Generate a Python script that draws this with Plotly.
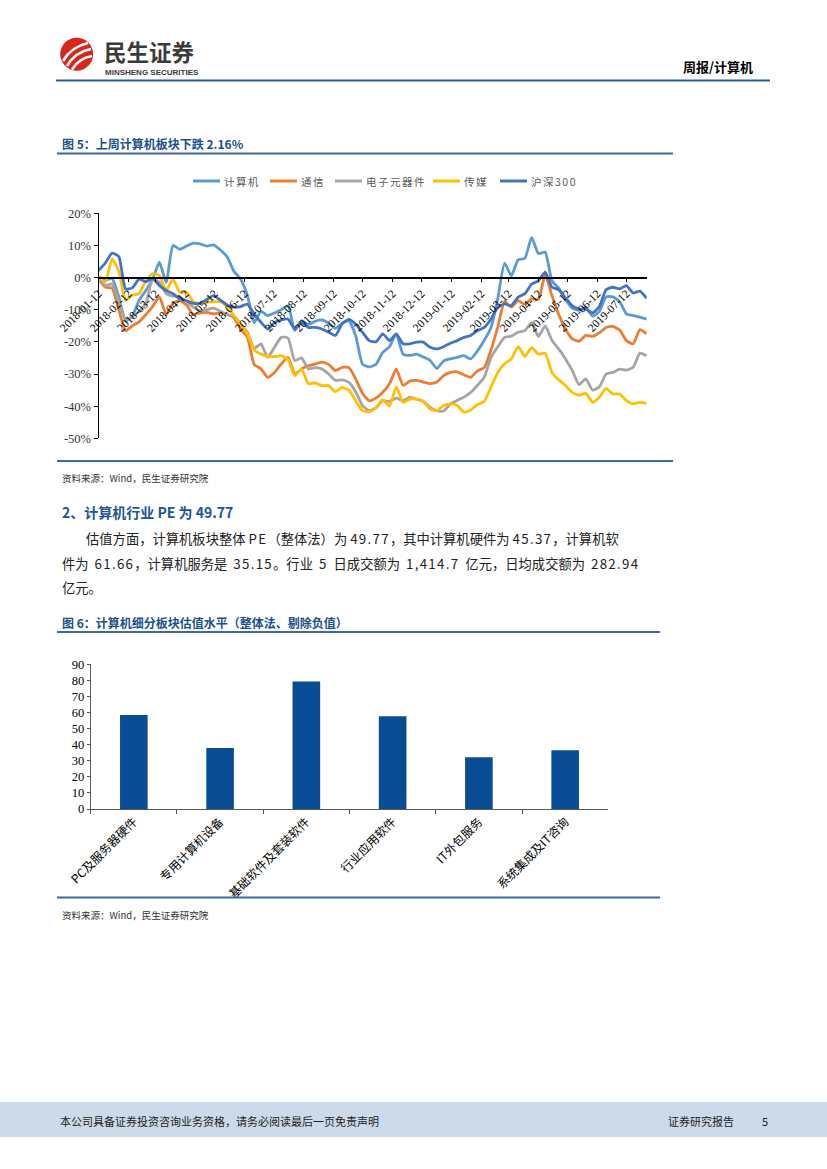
import plotly.graph_objects as go

W, H = 827, 1169
def X(px): return px / W
def Y(py): return 1 - py / H

# ---------------- data ----------------
DATES = [
    "2018-01-12","2018-01-19","2018-01-26","2018-02-02","2018-02-09","2018-02-16","2018-02-23",
    "2018-03-02","2018-03-09","2018-03-16","2018-03-23","2018-03-30","2018-04-06","2018-04-13",
    "2018-04-20","2018-04-27","2018-05-04","2018-05-11","2018-05-18","2018-05-25","2018-06-01",
    "2018-06-08","2018-06-15","2018-06-22","2018-06-29","2018-07-06","2018-07-13","2018-07-20",
    "2018-07-27","2018-08-03","2018-08-10","2018-08-17","2018-08-24","2018-08-31","2018-09-07",
    "2018-09-14","2018-09-21","2018-09-28","2018-10-05","2018-10-12","2018-10-19","2018-10-26",
    "2018-11-02","2018-11-09","2018-11-16","2018-11-23","2018-11-30","2018-12-07","2018-12-14",
    "2018-12-21","2018-12-28","2019-01-04","2019-01-11","2019-01-18","2019-01-25","2019-02-01",
    "2019-02-08","2019-02-15","2019-02-22","2019-03-01","2019-03-08","2019-03-15","2019-03-22",
    "2019-03-29","2019-04-05","2019-04-12","2019-04-19","2019-04-26","2019-05-03","2019-05-10",
    "2019-05-17","2019-05-24","2019-05-31","2019-06-07","2019-06-14","2019-06-21","2019-06-28",
    "2019-07-05","2019-07-12","2019-07-19","2019-07-26","2019-08-02",
]

COMPUTER = [0, -0.8, -0.3, -6, -13.5, -12, -7, -4, -0.5, 4.8, -1.5, 10, 8.8, 9.8, 10.7, 10.5,
            9.8, 10.2, 8.6, 6.5, 2, -0.5, -5.5, -14, -10.5, -11.8, -11, -10, -8.7, -16.5, -13.4,
            -14.6, -13.6, -13.2, -14.2, -15.8, -14.2, -13.5, -18, -26.9, -27.8, -27, -23.3, -21.5,
            -17.5, -23.8, -24.2, -23.8, -24.7, -25.8, -28.3, -25.9, -25.3, -24.8, -24.3, -25.3,
            -22.8, -19.5, -15.5, -6.5, 4.5, 0.6, 5.5, 6, 12.5, 7.5, 7.9, -1, -3.3, -6.8, -9.5,
            -10.2, -9.3, -12, -10.5, -6, -6, -7.5, -11.3, -11.8, -12.3, -12.9]

TELECOM = [-0.4, -3, -3.3, -10, -16.5, -15, -13.8, -11.5, -9, -6, -11.5, -8, -7.2, -8.5, -11.5,
           -11, -10.8, -11.3, -11, -11.5, -12.5, -16, -18.5, -27, -28.4, -31, -29.5, -26.9, -24.8,
           -30, -28.4, -27.4, -26.9, -26.3, -27, -28.9, -27.9, -28, -31.5, -36, -38.3, -37.5,
           -35.7, -33, -28.5, -33.5, -32.2, -32, -32.5, -33, -32.5, -30.5, -29.5, -29.3, -30.3,
           -31, -29, -28, -22.5, -15.3, -7.5, -9.2, -7.2, -8.3, -6.6, -6.8, 1, -5.6, -11.5, -16,
           -19.1, -19.8, -18, -18.3, -17.2, -15.5, -15.2, -16.3, -19.6, -20.6, -16.2, -17.5]

ELECTRONICS = [-0.4, -2.5, -2, -7.5, -13, -12.2, -10.5, -8, -0.5, -1.5, -5, -5.8, -6, -7.5, -9.2,
               -10.3, -10, -9.5, -10.5, -11.5, -12, -14.4, -17, -22, -20.6, -24.8, -21.7, -18.6,
               -18.8, -25.8, -25, -28.4, -28, -28.4, -30, -32, -31.8, -32.6, -35.5, -39.8, -41.4,
               -40.5, -38.3, -38.5, -37.5, -38.3, -37.2, -37.8, -38.5, -40.4, -41.4, -41.5, -39.3,
               -38.2, -37.2, -35.7, -33.5, -31, -24.8, -21.5, -18.6, -18.2, -17, -16.5, -14, -18.3,
               -15, -19.6, -22.2, -25.3, -28.9, -33.3, -31.5, -35, -34, -30, -29.5, -28.5, -28.8,
               -27.9, -23.5, -24.3]

MEDIA = [0.6, -1.5, 5.8, 2, -7, -5.5, -5, -1, 1.2, 0.6, -4, -0.5, -4.5, -4.5, -7.5, -8, -7.7,
         -7.5, -7.5, -9, -11.8, -14.4, -17.5, -22.5, -23.8, -24.5, -24.6, -24.3, -25.5, -30.5,
         -28.5, -33, -32.8, -33.6, -33.6, -35.5, -34.2, -35, -38.3, -41.4, -41.8, -40.5, -38, -40,
         -34, -38.8, -37.8, -37.8, -38.5, -40.9, -41.4, -39.8, -39.3, -39.8, -41.9, -41.2, -39.5,
         -38.5, -34, -29.5, -26.8, -25.3, -21.5, -24.5, -21.8, -23.8, -23.5, -29.5, -31.8, -33.6,
         -35.7, -36.6, -36, -38.8, -37.2, -34.5, -36.2, -36.2, -38.3, -39.3, -38.8, -39.1]

HS300 = [2.2, 4.5, 7.6, 6.5, -3.5, -3.2, -0.5, -1.3, -0.3, -2.5, -4, -5, -6.6, -7.2, -8, -8, -6.8,
         -5.6, -7, -8.5, -9.2, -9, -8.3, -11.3, -13.9, -16, -14, -13.2, -12.9, -16, -14, -15.5,
         -15.5, -16, -17, -18, -14.4, -13, -14.5, -17, -19.6, -20, -17.5, -19.6, -17.5, -20.6,
         -20.6, -20.1, -20.1, -21.7, -22.2, -21.5, -20.4, -19.6, -18.6, -18, -16.5, -15.5, -12.9,
         -9.2, -8.2, -8.7, -6.1, -5, -2, -1, 1.7, -3, -3.8, -6.3, -8.8, -9.8, -9.8, -11, -9, -3.8,
         -3, -3.5, -2.5, -4.8, -4.2, -6.5]

SERIES_NAMES = ["计算机", "通信", "电子元器件", "传媒", "沪深300"]
SERIES_VALUES = [COMPUTER, TELECOM, ELECTRONICS, MEDIA, HS300]
SERIES_COLORS = ["#5B9BD5", "#ED7D31", "#A5A5A5", "#FFC000", "#4472C4"]

Y_TICKS = [-50, -40, -30, -20, -10, 0, 10, 20]

BAR_CATS = ["PC及服务器硬件", "专用计算机设备", "基础软件及套装软件", "行业应用软件", "IT外包服务", "系统集成及IT咨询"]
BAR_VALS = [58.5, 38.0, 79.3, 57.7, 32.2, 36.5]
BAR_TICKS = [0, 10, 20, 30, 40, 50, 60, 70, 80, 90]

# ---------------- figure ----------------
fig = go.Figure()
for name, vals, col in zip(SERIES_NAMES, SERIES_VALUES, SERIES_COLORS):
    fig.add_trace(go.Scatter(x=DATES, y=vals, name=name, mode="lines",
                             line=dict(color=col, width=2.8, shape="spline", smoothing=0.5),
                             xaxis="x", yaxis="y", showlegend=False, hoverinfo="skip"))

fig.add_trace(go.Bar(x=BAR_CATS, y=BAR_VALS, marker=dict(color="#0A4D95", line=dict(width=0)),
                     xaxis="x2", yaxis="y2", showlegend=False, hoverinfo="skip"))

serif = "Liberation Serif, Times New Roman, serif"
cjk = "Noto Sans CJK SC, sans-serif"

fig.update_layout(
    template="none",
    width=W, height=H, margin=dict(l=0, r=0, t=0, b=0, pad=0, autoexpand=False),
    paper_bgcolor="white", plot_bgcolor="white",
    showlegend=False,
    bargap=0.68,
    xaxis=dict(domain=[X(98.5), X(646.7)], type="date", automargin=False,
               range=["2018-01-12", "2019-08-02"],
               anchor="free", position=Y(277.6),
               tick0="2018-01-12", dtick="M1", tickformat="%Y-%m-%d",
               tickangle=-45, ticks="outside", ticklen=4, tickcolor="black",
               showline=True, linecolor="black", linewidth=1.5,
               showgrid=False, zeroline=False,
               tickfont=dict(family=serif, size=11.5, color="black")),
    yaxis=dict(domain=[Y(438.3), Y(213.3)], range=[-50, 20], anchor="x", automargin=False,
               tickvals=Y_TICKS, ticktext=[f"{v}%" for v in Y_TICKS],
               ticks="outside", ticklen=4, tickcolor="black",
               showline=True, linecolor="black", linewidth=1,
               showgrid=False, zeroline=False,
               tickfont=dict(family=serif, size=12.5, color="#333333")),
    xaxis2=dict(domain=[X(90.7), X(608.3)], anchor="y2", type="category", automargin=False,
                tickangle=-45, ticks="outside", ticklen=4, tickcolor="#595959",
                tickson="boundaries",
                showline=True, linecolor="#595959", linewidth=1,
                showgrid=False, zeroline=False,
                tickfont=dict(family=cjk, size=12, color="black")),
    yaxis2=dict(domain=[Y(809), Y(664.3)], range=[0, 90], anchor="x2", automargin=False,
                tickvals=BAR_TICKS, ticks="outside", ticklen=3, tickcolor="#595959",
                showline=True, linecolor="#595959", linewidth=1,
                showgrid=False, zeroline=False,
                tickfont=dict(family=serif, size=12.5, color="black")),
)

shapes = []
annos = []

def hline(py, x0, x1, color, width):
    shapes.append(dict(type="line", xref="paper", yref="paper",
                       x0=X(x0), x1=X(x1), y0=Y(py), y1=Y(py),
                       line=dict(color=color, width=width)))

def text(px, py, s, size, color="black", family=cjk, anchor="left"):
    annos.append(dict(x=X(px), y=Y(py), xref="paper", yref="paper", text=s,
                      showarrow=False, xanchor=anchor, yanchor="middle",
                      font=dict(family=family, size=size, color=color)))

def P(px, py):
    return f"{X(px):.5f},{Y(py):.5f}"

def num(s):
    return f'<span style="letter-spacing:1.3px">{s}</span>'

# header logo
shapes.append(dict(type="circle", xref="paper", yref="paper",
                   x0=X(60.2), x1=X(93.2), y0=Y(70.7), y1=Y(37.7),
                   fillcolor="#D9261C", line=dict(width=0)))
for a, c, b in [((63, 61), (71, 47), (88, 43)),
                ((67, 66), (75, 52), (91, 49)),
                ((72, 69.5), (79, 58), (92, 56))]:
    shapes.append(dict(type="path", xref="paper", yref="paper",
                       path=f"M {P(*a)} Q {P(*c)} {P(*b)}",
                       line=dict(color="white", width=2.6)))
text(102, 51.5, "<b>民生证券</b>", 22.5, "#3A3A3A")
text(103, 72.5, "<b>MINSHENG SECURITIES</b>", 8, "#3A3A3A", family="Liberation Sans, Arial, sans-serif")
text(681, 67, "<b>周报/计算机</b>", 13, "black")
hline(80.5, 56, 770, "#2E5C97", 2.2)

# figure 5
text(60, 144, "<b>图 5：上周计算机板块下跌 2.16%</b>", 12, "#1A4F8C")
hline(153.5, 57, 673, "#3F6B9C", 2)
legend_x = [193, 270, 335, 433, 500]
for lx, name, col in zip(legend_x, SERIES_NAMES, SERIES_COLORS):
    shapes.append(dict(type="line", xref="paper", yref="paper",
                       x0=X(lx), x1=X(lx + 27), y0=Y(181), y1=Y(181),
                       line=dict(color=col, width=3)))
    text(lx + 29, 181, f'<span style="letter-spacing:1.5px">{name}</span>', 10.5, "#595959")
hline(461, 57, 673, "#3F6B9C", 2)
text(60, 478, "资料来源：Wind，民生证券研究院", 9.5, "#333333")

# section text
text(60, 512, "<b>2、计算机行业 PE 为 49.77</b>", 14, "#1F5597")
text(84, 538, f"估值方面，计算机板块整体 {num('PE')}（整体法）为 {num('49.77')}，其中计算机硬件为 {num('45.37')}，计算机软", 13.3, "#222222")
text(60, 563, f"件为 &nbsp;{num('61.66')}，计算机服务是 &nbsp;{num('35.15')}。行业 &nbsp;{num('5')} &nbsp;日成交额为 &nbsp;{num('1,414.7')} &nbsp;亿元，日均成交额为 &nbsp;{num('282.94')}", 13.3, "#222222")
text(60, 587, "亿元。", 13.3, "#222222")

# figure 6
text(60, 622, "<b>图 6：计算机细分板块估值水平（整体法、剔除负值）</b>", 12, "#1A4F8C")
hline(632, 57, 660, "#3F6B9C", 2)
hline(897.5, 57, 660, "#3F6B9C", 2)
text(60, 915, "资料来源：Wind，民生证券研究院", 9.5, "#333333")

# footer
shapes.append(dict(type="rect", xref="paper", yref="paper", layer="below",
                   x0=0, x1=1, y0=Y(1137), y1=Y(1102),
                   fillcolor="#CCDAEA", line=dict(width=0)))
text(58, 1121, "本公司具备证券投资咨询业务资格，请务必阅读最后一页免责声明", 11, "#222222")
text(666, 1121, "证券研究报告", 11, "#222222")
text(760, 1121, "5", 11, "#222222")

fig.update_layout(shapes=shapes, annotations=annos)
fig.write_html("out.html",
               config={"displayModeBar": False},
               post_script="document.body.style.margin='0px';document.body.style.overflow='hidden';")
